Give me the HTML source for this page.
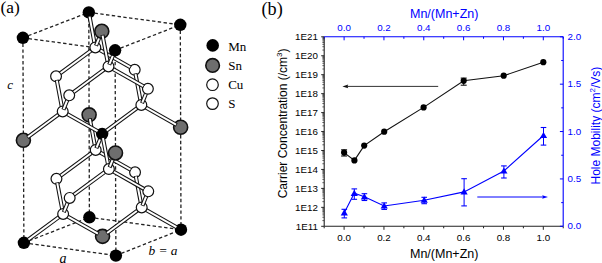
<!DOCTYPE html>
<html><head><meta charset="utf-8"><style>
html,body{margin:0;padding:0;background:#fff;width:602px;height:263px;overflow:hidden}
svg{display:block}
.dsh{stroke:#222;stroke-width:1.3;stroke-dasharray:3.4 2.4;fill:none}
.bo{stroke:#111;stroke-width:4.1;stroke-linecap:butt}
.bi{stroke:#fff;stroke-width:2.0;stroke-linecap:butt}
text{font-family:"Liberation Sans",sans-serif;fill:#000}
.ser13{font-family:"Liberation Serif",serif;font-size:13px}
.ser16{font-family:"Liberation Serif",serif;font-size:17.4px}
.ser17{font-family:"Liberation Serif",serif;font-size:18.2px}
.seri{font-family:"Liberation Serif",serif;font-size:13px;font-style:italic}
.sans9{font-size:9.8px}
.sans12{font-size:12px}
.mid{text-anchor:middle}
.end{text-anchor:end}
.blue{fill:#00f}
</style></head><body>
<svg width="602" height="263" viewBox="0 0 602 263">
<rect width="602" height="263" fill="#fff"/>
<line x1="22.90" y1="37.80" x2="115.10" y2="50.30" class="dsh"/>
<line x1="22.90" y1="37.80" x2="88.80" y2="12.40" class="dsh"/>
<line x1="22.90" y1="37.80" x2="23.90" y2="242.80" class="dsh"/>
<line x1="23.90" y1="242.80" x2="115.90" y2="255.60" class="dsh"/>
<line x1="23.90" y1="242.80" x2="89.40" y2="217.30" class="dsh"/>
<line x1="88.80" y1="12.40" x2="180.30" y2="24.80" class="dsh"/>
<line x1="88.80" y1="12.40" x2="89.40" y2="217.30" class="dsh"/>
<line x1="89.40" y1="217.30" x2="181.00" y2="229.70" class="dsh"/>
<line x1="115.10" y1="50.30" x2="180.30" y2="24.80" class="dsh"/>
<line x1="115.10" y1="50.30" x2="115.90" y2="255.60" class="dsh"/>
<line x1="115.90" y1="255.60" x2="181.00" y2="229.70" class="dsh"/>
<line x1="180.30" y1="24.80" x2="181.00" y2="229.70" class="dsh"/>
<circle cx="89.40" cy="217.30" r="6.20" fill="#000"/>
<circle cx="89.10" cy="114.85" r="7.00" fill="#6e6e6e" stroke="#111" stroke-width="1.6"/>
<line x1="95.01" y1="146.37" x2="89.77" y2="118.43" class="bo"/>
<line x1="94.88" y1="145.68" x2="89.90" y2="119.12" class="bi"/>
<circle cx="135.04" cy="172.28" r="5.40" fill="#fff" stroke="#111" stroke-width="1.2"/>
<line x1="99.70" y1="152.22" x2="131.02" y2="170.00" class="bo"/>
<line x1="100.31" y1="152.57" x2="130.42" y2="169.65" class="bi"/>
<circle cx="88.80" cy="12.40" r="6.20" fill="#000"/>
<circle cx="56.45" cy="178.81" r="5.40" fill="#fff" stroke="#111" stroke-width="1.2"/>
<line x1="91.68" y1="152.89" x2="60.45" y2="175.87" class="bo"/>
<line x1="91.12" y1="153.30" x2="61.01" y2="175.45" class="bi"/>
<circle cx="95.69" cy="149.95" r="5.40" fill="#fff" stroke="#111" stroke-width="1.2"/>
<line x1="141.03" y1="203.84" x2="135.72" y2="175.86" class="bo"/>
<line x1="140.90" y1="203.15" x2="135.85" y2="176.55" class="bi"/>
<circle cx="181.00" cy="229.70" r="6.20" fill="#000"/>
<line x1="145.72" y1="209.70" x2="176.99" y2="227.43" class="bo"/>
<line x1="146.33" y1="210.04" x2="176.38" y2="227.08" class="bi"/>
<line x1="94.67" y1="43.90" x2="89.47" y2="15.98" class="bo"/>
<line x1="94.54" y1="43.21" x2="89.59" y2="16.66" class="bi"/>
<line x1="62.46" y1="210.39" x2="57.13" y2="182.40" class="bo"/>
<line x1="62.33" y1="209.70" x2="57.26" y2="183.09" class="bi"/>
<circle cx="134.71" cy="69.83" r="5.40" fill="#fff" stroke="#111" stroke-width="1.2"/>
<circle cx="102.55" cy="236.35" r="7.00" fill="#6e6e6e" stroke="#111" stroke-width="1.6"/>
<line x1="137.72" y1="210.38" x2="106.54" y2="233.40" class="bo"/>
<line x1="137.15" y1="210.79" x2="107.11" y2="232.98" class="bi"/>
<circle cx="141.71" cy="207.43" r="5.40" fill="#fff" stroke="#111" stroke-width="1.2"/>
<line x1="99.35" y1="49.75" x2="130.70" y2="67.55" class="bo"/>
<line x1="99.96" y1="50.10" x2="130.09" y2="67.20" class="bi"/>
<line x1="96.35" y1="148.30" x2="101.50" y2="135.48" class="bo"/>
<line x1="96.61" y1="147.65" x2="101.24" y2="136.13" class="bi"/>
<line x1="67.16" y1="216.25" x2="98.53" y2="234.07" class="bo"/>
<line x1="67.77" y1="216.60" x2="97.92" y2="233.72" class="bi"/>
<circle cx="56.05" cy="76.34" r="5.40" fill="#fff" stroke="#111" stroke-width="1.2"/>
<line x1="91.33" y1="50.42" x2="60.06" y2="73.39" class="bo"/>
<line x1="90.76" y1="50.83" x2="60.62" y2="72.98" class="bi"/>
<circle cx="95.33" cy="47.47" r="5.40" fill="#fff" stroke="#111" stroke-width="1.2"/>
<circle cx="23.90" cy="242.80" r="6.20" fill="#000"/>
<line x1="59.14" y1="216.91" x2="27.90" y2="239.86" class="bo"/>
<line x1="58.58" y1="217.33" x2="28.47" y2="239.45" class="bi"/>
<circle cx="63.14" cy="213.97" r="5.40" fill="#fff" stroke="#111" stroke-width="1.2"/>
<line x1="140.67" y1="101.36" x2="135.39" y2="73.41" class="bo"/>
<line x1="140.54" y1="100.67" x2="135.52" y2="74.09" class="bi"/>
<circle cx="180.65" cy="127.25" r="7.00" fill="#6e6e6e" stroke="#111" stroke-width="1.6"/>
<line x1="145.36" y1="107.21" x2="176.64" y2="124.97" class="bo"/>
<line x1="145.97" y1="107.56" x2="176.03" y2="124.63" class="bi"/>
<line x1="142.38" y1="205.79" x2="147.59" y2="193.01" class="bo"/>
<line x1="142.64" y1="205.14" x2="147.33" y2="193.66" class="bi"/>
<line x1="62.03" y1="107.87" x2="56.73" y2="79.92" class="bo"/>
<line x1="61.90" y1="107.19" x2="56.86" y2="80.61" class="bi"/>
<circle cx="102.16" cy="133.84" r="6.20" fill="#000"/>
<line x1="137.35" y1="107.88" x2="106.16" y2="130.89" class="bo"/>
<line x1="136.79" y1="108.30" x2="106.72" y2="130.47" class="bi"/>
<circle cx="141.35" cy="104.94" r="5.40" fill="#fff" stroke="#111" stroke-width="1.2"/>
<line x1="95.99" y1="45.83" x2="101.12" y2="32.97" class="bo"/>
<line x1="96.25" y1="45.18" x2="100.86" y2="33.62" class="bi"/>
<line x1="66.73" y1="113.74" x2="98.14" y2="131.56" class="bo"/>
<line x1="67.34" y1="114.08" x2="97.53" y2="131.21" class="bi"/>
<line x1="63.81" y1="212.33" x2="69.01" y2="199.55" class="bo"/>
<line x1="64.07" y1="211.69" x2="68.74" y2="200.20" class="bi"/>
<circle cx="23.40" cy="140.30" r="7.00" fill="#6e6e6e" stroke="#111" stroke-width="1.6"/>
<line x1="58.70" y1="114.40" x2="27.41" y2="137.36" class="bo"/>
<line x1="58.13" y1="114.81" x2="27.97" y2="136.94" class="bi"/>
<circle cx="62.71" cy="111.46" r="5.40" fill="#fff" stroke="#111" stroke-width="1.2"/>
<line x1="108.21" y1="165.43" x2="102.85" y2="137.43" class="bo"/>
<line x1="108.08" y1="164.75" x2="102.98" y2="138.11" class="bi"/>
<circle cx="180.30" cy="24.80" r="6.20" fill="#000"/>
<circle cx="148.26" cy="191.37" r="5.40" fill="#fff" stroke="#111" stroke-width="1.2"/>
<line x1="142.02" y1="103.29" x2="147.22" y2="90.47" class="bo"/>
<line x1="142.28" y1="102.65" x2="146.96" y2="91.12" class="bi"/>
<line x1="112.91" y1="171.30" x2="144.25" y2="189.10" class="bo"/>
<line x1="113.52" y1="171.65" x2="143.64" y2="188.75" class="bi"/>
<circle cx="101.78" cy="31.32" r="7.00" fill="#6e6e6e" stroke="#111" stroke-width="1.6"/>
<circle cx="69.68" cy="197.91" r="5.40" fill="#fff" stroke="#111" stroke-width="1.2"/>
<line x1="104.90" y1="171.97" x2="73.67" y2="194.97" class="bo"/>
<line x1="104.33" y1="172.38" x2="74.24" y2="194.55" class="bi"/>
<circle cx="108.90" cy="169.02" r="5.40" fill="#fff" stroke="#111" stroke-width="1.2"/>
<line x1="63.37" y1="109.81" x2="68.56" y2="96.98" class="bo"/>
<line x1="63.63" y1="109.16" x2="68.30" y2="97.63" class="bi"/>
<circle cx="22.90" cy="37.80" r="6.20" fill="#000"/>
<line x1="107.81" y1="62.87" x2="102.46" y2="34.91" class="bo"/>
<line x1="107.68" y1="62.18" x2="102.59" y2="35.59" class="bi"/>
<circle cx="147.89" cy="88.82" r="5.40" fill="#fff" stroke="#111" stroke-width="1.2"/>
<circle cx="115.90" cy="255.60" r="6.20" fill="#000"/>
<line x1="112.51" y1="68.73" x2="143.87" y2="86.54" class="bo"/>
<line x1="113.12" y1="69.08" x2="143.26" y2="86.20" class="bi"/>
<line x1="109.57" y1="167.38" x2="114.83" y2="154.59" class="bo"/>
<line x1="109.84" y1="166.73" x2="114.56" y2="155.24" class="bi"/>
<circle cx="69.22" cy="95.34" r="5.40" fill="#fff" stroke="#111" stroke-width="1.2"/>
<line x1="104.49" y1="69.40" x2="73.23" y2="92.39" class="bo"/>
<line x1="103.93" y1="69.81" x2="73.79" y2="91.98" class="bi"/>
<circle cx="108.49" cy="66.45" r="5.40" fill="#fff" stroke="#111" stroke-width="1.2"/>
<circle cx="115.50" cy="152.95" r="7.00" fill="#6e6e6e" stroke="#111" stroke-width="1.6"/>
<line x1="109.17" y1="64.80" x2="114.43" y2="51.95" class="bo"/>
<line x1="109.43" y1="64.15" x2="114.16" y2="52.59" class="bi"/>
<circle cx="115.10" cy="50.30" r="6.20" fill="#000"/>
<circle cx="212.7" cy="45.4" r="6.3" fill="#000"/>
<circle cx="212.6" cy="65.4" r="6.8" fill="#6e6e6e" stroke="#111" stroke-width="1.6"/>
<circle cx="212.5" cy="84.7" r="5.8" fill="#fff" stroke="#111" stroke-width="1.2"/>
<circle cx="212.5" cy="103.6" r="5.8" fill="#fff" stroke="#111" stroke-width="1.2"/>
<text x="228.2" y="50.8" class="ser13">Mn</text>
<text x="228.2" y="69.8" class="ser13">Sn</text>
<text x="228.2" y="89.0" class="ser13">Cu</text>
<text x="228.2" y="108.2" class="ser13">S</text>
<text x="0.4" y="13.1" class="ser16">(a)</text>
<text x="7.2" y="88.8" class="seri">c</text>
<text x="59.6" y="262.8" class="seri" style="font-size:14px">a</text>
<text x="148.4" y="254.7" class="seri" style="font-size:13.4px">b = a</text>
<line x1="324.2" y1="226.3" x2="563.2" y2="226.3" stroke="#222" stroke-width="1.1"/>
<line x1="324.2" y1="36.8" x2="324.2" y2="226.3" stroke="#222" stroke-width="1.1"/>
<line x1="324.2" y1="36.8" x2="563.2" y2="36.8" stroke="#00f" stroke-width="1.1"/>
<line x1="563.2" y1="36.8" x2="563.2" y2="226.3" stroke="#00f" stroke-width="1.1"/>
<line x1="324.18" y1="226.3" x2="324.18" y2="228.3" stroke="#222" stroke-width="1"/>
<line x1="324.18" y1="36.8" x2="324.18" y2="38.8" stroke="#00f" stroke-width="1"/>
<line x1="344.10" y1="226.3" x2="344.10" y2="229.8" stroke="#222" stroke-width="1"/>
<line x1="344.10" y1="36.8" x2="344.10" y2="40.3" stroke="#00f" stroke-width="1"/>
<text x="344.10" y="240.6" class="sans9 mid">0.0</text>
<text x="344.10" y="30.6" class="sans9 mid blue">0.0</text>
<line x1="364.02" y1="226.3" x2="364.02" y2="228.3" stroke="#222" stroke-width="1"/>
<line x1="364.02" y1="36.8" x2="364.02" y2="38.8" stroke="#00f" stroke-width="1"/>
<line x1="383.94" y1="226.3" x2="383.94" y2="229.8" stroke="#222" stroke-width="1"/>
<line x1="383.94" y1="36.8" x2="383.94" y2="40.3" stroke="#00f" stroke-width="1"/>
<text x="383.94" y="240.6" class="sans9 mid">0.2</text>
<text x="383.94" y="30.6" class="sans9 mid blue">0.2</text>
<line x1="403.86" y1="226.3" x2="403.86" y2="228.3" stroke="#222" stroke-width="1"/>
<line x1="403.86" y1="36.8" x2="403.86" y2="38.8" stroke="#00f" stroke-width="1"/>
<line x1="423.78" y1="226.3" x2="423.78" y2="229.8" stroke="#222" stroke-width="1"/>
<line x1="423.78" y1="36.8" x2="423.78" y2="40.3" stroke="#00f" stroke-width="1"/>
<text x="423.78" y="240.6" class="sans9 mid">0.4</text>
<text x="423.78" y="30.6" class="sans9 mid blue">0.4</text>
<line x1="443.70" y1="226.3" x2="443.70" y2="228.3" stroke="#222" stroke-width="1"/>
<line x1="443.70" y1="36.8" x2="443.70" y2="38.8" stroke="#00f" stroke-width="1"/>
<line x1="463.62" y1="226.3" x2="463.62" y2="229.8" stroke="#222" stroke-width="1"/>
<line x1="463.62" y1="36.8" x2="463.62" y2="40.3" stroke="#00f" stroke-width="1"/>
<text x="463.62" y="240.6" class="sans9 mid">0.6</text>
<text x="463.62" y="30.6" class="sans9 mid blue">0.6</text>
<line x1="483.54" y1="226.3" x2="483.54" y2="228.3" stroke="#222" stroke-width="1"/>
<line x1="483.54" y1="36.8" x2="483.54" y2="38.8" stroke="#00f" stroke-width="1"/>
<line x1="503.46" y1="226.3" x2="503.46" y2="229.8" stroke="#222" stroke-width="1"/>
<line x1="503.46" y1="36.8" x2="503.46" y2="40.3" stroke="#00f" stroke-width="1"/>
<text x="503.46" y="240.6" class="sans9 mid">0.8</text>
<text x="503.46" y="30.6" class="sans9 mid blue">0.8</text>
<line x1="523.38" y1="226.3" x2="523.38" y2="228.3" stroke="#222" stroke-width="1"/>
<line x1="523.38" y1="36.8" x2="523.38" y2="38.8" stroke="#00f" stroke-width="1"/>
<line x1="543.30" y1="226.3" x2="543.30" y2="229.8" stroke="#222" stroke-width="1"/>
<line x1="543.30" y1="36.8" x2="543.30" y2="40.3" stroke="#00f" stroke-width="1"/>
<text x="543.30" y="240.6" class="sans9 mid">1.0</text>
<text x="543.30" y="30.6" class="sans9 mid blue">1.0</text>
<line x1="563.22" y1="226.3" x2="563.22" y2="228.3" stroke="#222" stroke-width="1"/>
<line x1="563.22" y1="36.8" x2="563.22" y2="38.8" stroke="#00f" stroke-width="1"/>
<line x1="321.2" y1="226.30" x2="324.2" y2="226.30" stroke="#222" stroke-width="1"/>
<text x="318.0" y="229.60" class="sans9 end">1E11</text>
<line x1="322.4" y1="220.60" x2="324.2" y2="220.60" stroke="#333" stroke-width="0.8"/>
<line x1="322.4" y1="217.26" x2="324.2" y2="217.26" stroke="#333" stroke-width="0.8"/>
<line x1="322.4" y1="214.89" x2="324.2" y2="214.89" stroke="#333" stroke-width="0.8"/>
<line x1="322.4" y1="213.05" x2="324.2" y2="213.05" stroke="#333" stroke-width="0.8"/>
<line x1="322.4" y1="211.55" x2="324.2" y2="211.55" stroke="#333" stroke-width="0.8"/>
<line x1="322.4" y1="210.29" x2="324.2" y2="210.29" stroke="#333" stroke-width="0.8"/>
<line x1="322.4" y1="209.19" x2="324.2" y2="209.19" stroke="#333" stroke-width="0.8"/>
<line x1="322.4" y1="208.22" x2="324.2" y2="208.22" stroke="#333" stroke-width="0.8"/>
<line x1="321.2" y1="207.35" x2="324.2" y2="207.35" stroke="#222" stroke-width="1"/>
<text x="318.0" y="210.65" class="sans9 end">1E12</text>
<line x1="322.4" y1="201.65" x2="324.2" y2="201.65" stroke="#333" stroke-width="0.8"/>
<line x1="322.4" y1="198.31" x2="324.2" y2="198.31" stroke="#333" stroke-width="0.8"/>
<line x1="322.4" y1="195.94" x2="324.2" y2="195.94" stroke="#333" stroke-width="0.8"/>
<line x1="322.4" y1="194.10" x2="324.2" y2="194.10" stroke="#333" stroke-width="0.8"/>
<line x1="322.4" y1="192.60" x2="324.2" y2="192.60" stroke="#333" stroke-width="0.8"/>
<line x1="322.4" y1="191.34" x2="324.2" y2="191.34" stroke="#333" stroke-width="0.8"/>
<line x1="322.4" y1="190.24" x2="324.2" y2="190.24" stroke="#333" stroke-width="0.8"/>
<line x1="322.4" y1="189.27" x2="324.2" y2="189.27" stroke="#333" stroke-width="0.8"/>
<line x1="321.2" y1="188.40" x2="324.2" y2="188.40" stroke="#222" stroke-width="1"/>
<text x="318.0" y="191.70" class="sans9 end">1E13</text>
<line x1="322.4" y1="182.70" x2="324.2" y2="182.70" stroke="#333" stroke-width="0.8"/>
<line x1="322.4" y1="179.36" x2="324.2" y2="179.36" stroke="#333" stroke-width="0.8"/>
<line x1="322.4" y1="176.99" x2="324.2" y2="176.99" stroke="#333" stroke-width="0.8"/>
<line x1="322.4" y1="175.15" x2="324.2" y2="175.15" stroke="#333" stroke-width="0.8"/>
<line x1="322.4" y1="173.65" x2="324.2" y2="173.65" stroke="#333" stroke-width="0.8"/>
<line x1="322.4" y1="172.39" x2="324.2" y2="172.39" stroke="#333" stroke-width="0.8"/>
<line x1="322.4" y1="171.29" x2="324.2" y2="171.29" stroke="#333" stroke-width="0.8"/>
<line x1="322.4" y1="170.32" x2="324.2" y2="170.32" stroke="#333" stroke-width="0.8"/>
<line x1="321.2" y1="169.45" x2="324.2" y2="169.45" stroke="#222" stroke-width="1"/>
<text x="318.0" y="172.75" class="sans9 end">1E14</text>
<line x1="322.4" y1="163.75" x2="324.2" y2="163.75" stroke="#333" stroke-width="0.8"/>
<line x1="322.4" y1="160.41" x2="324.2" y2="160.41" stroke="#333" stroke-width="0.8"/>
<line x1="322.4" y1="158.04" x2="324.2" y2="158.04" stroke="#333" stroke-width="0.8"/>
<line x1="322.4" y1="156.20" x2="324.2" y2="156.20" stroke="#333" stroke-width="0.8"/>
<line x1="322.4" y1="154.70" x2="324.2" y2="154.70" stroke="#333" stroke-width="0.8"/>
<line x1="322.4" y1="153.44" x2="324.2" y2="153.44" stroke="#333" stroke-width="0.8"/>
<line x1="322.4" y1="152.34" x2="324.2" y2="152.34" stroke="#333" stroke-width="0.8"/>
<line x1="322.4" y1="151.37" x2="324.2" y2="151.37" stroke="#333" stroke-width="0.8"/>
<line x1="321.2" y1="150.50" x2="324.2" y2="150.50" stroke="#222" stroke-width="1"/>
<text x="318.0" y="153.80" class="sans9 end">1E15</text>
<line x1="322.4" y1="144.80" x2="324.2" y2="144.80" stroke="#333" stroke-width="0.8"/>
<line x1="322.4" y1="141.46" x2="324.2" y2="141.46" stroke="#333" stroke-width="0.8"/>
<line x1="322.4" y1="139.09" x2="324.2" y2="139.09" stroke="#333" stroke-width="0.8"/>
<line x1="322.4" y1="137.25" x2="324.2" y2="137.25" stroke="#333" stroke-width="0.8"/>
<line x1="322.4" y1="135.75" x2="324.2" y2="135.75" stroke="#333" stroke-width="0.8"/>
<line x1="322.4" y1="134.49" x2="324.2" y2="134.49" stroke="#333" stroke-width="0.8"/>
<line x1="322.4" y1="133.39" x2="324.2" y2="133.39" stroke="#333" stroke-width="0.8"/>
<line x1="322.4" y1="132.42" x2="324.2" y2="132.42" stroke="#333" stroke-width="0.8"/>
<line x1="321.2" y1="131.55" x2="324.2" y2="131.55" stroke="#222" stroke-width="1"/>
<text x="318.0" y="134.85" class="sans9 end">1E16</text>
<line x1="322.4" y1="125.85" x2="324.2" y2="125.85" stroke="#333" stroke-width="0.8"/>
<line x1="322.4" y1="122.51" x2="324.2" y2="122.51" stroke="#333" stroke-width="0.8"/>
<line x1="322.4" y1="120.14" x2="324.2" y2="120.14" stroke="#333" stroke-width="0.8"/>
<line x1="322.4" y1="118.30" x2="324.2" y2="118.30" stroke="#333" stroke-width="0.8"/>
<line x1="322.4" y1="116.80" x2="324.2" y2="116.80" stroke="#333" stroke-width="0.8"/>
<line x1="322.4" y1="115.54" x2="324.2" y2="115.54" stroke="#333" stroke-width="0.8"/>
<line x1="322.4" y1="114.44" x2="324.2" y2="114.44" stroke="#333" stroke-width="0.8"/>
<line x1="322.4" y1="113.47" x2="324.2" y2="113.47" stroke="#333" stroke-width="0.8"/>
<line x1="321.2" y1="112.60" x2="324.2" y2="112.60" stroke="#222" stroke-width="1"/>
<text x="318.0" y="115.90" class="sans9 end">1E17</text>
<line x1="322.4" y1="106.90" x2="324.2" y2="106.90" stroke="#333" stroke-width="0.8"/>
<line x1="322.4" y1="103.56" x2="324.2" y2="103.56" stroke="#333" stroke-width="0.8"/>
<line x1="322.4" y1="101.19" x2="324.2" y2="101.19" stroke="#333" stroke-width="0.8"/>
<line x1="322.4" y1="99.35" x2="324.2" y2="99.35" stroke="#333" stroke-width="0.8"/>
<line x1="322.4" y1="97.85" x2="324.2" y2="97.85" stroke="#333" stroke-width="0.8"/>
<line x1="322.4" y1="96.59" x2="324.2" y2="96.59" stroke="#333" stroke-width="0.8"/>
<line x1="322.4" y1="95.49" x2="324.2" y2="95.49" stroke="#333" stroke-width="0.8"/>
<line x1="322.4" y1="94.52" x2="324.2" y2="94.52" stroke="#333" stroke-width="0.8"/>
<line x1="321.2" y1="93.65" x2="324.2" y2="93.65" stroke="#222" stroke-width="1"/>
<text x="318.0" y="96.95" class="sans9 end">1E18</text>
<line x1="322.4" y1="87.95" x2="324.2" y2="87.95" stroke="#333" stroke-width="0.8"/>
<line x1="322.4" y1="84.61" x2="324.2" y2="84.61" stroke="#333" stroke-width="0.8"/>
<line x1="322.4" y1="82.24" x2="324.2" y2="82.24" stroke="#333" stroke-width="0.8"/>
<line x1="322.4" y1="80.40" x2="324.2" y2="80.40" stroke="#333" stroke-width="0.8"/>
<line x1="322.4" y1="78.90" x2="324.2" y2="78.90" stroke="#333" stroke-width="0.8"/>
<line x1="322.4" y1="77.64" x2="324.2" y2="77.64" stroke="#333" stroke-width="0.8"/>
<line x1="322.4" y1="76.54" x2="324.2" y2="76.54" stroke="#333" stroke-width="0.8"/>
<line x1="322.4" y1="75.57" x2="324.2" y2="75.57" stroke="#333" stroke-width="0.8"/>
<line x1="321.2" y1="74.70" x2="324.2" y2="74.70" stroke="#222" stroke-width="1"/>
<text x="318.0" y="78.00" class="sans9 end">1E19</text>
<line x1="322.4" y1="69.00" x2="324.2" y2="69.00" stroke="#333" stroke-width="0.8"/>
<line x1="322.4" y1="65.66" x2="324.2" y2="65.66" stroke="#333" stroke-width="0.8"/>
<line x1="322.4" y1="63.29" x2="324.2" y2="63.29" stroke="#333" stroke-width="0.8"/>
<line x1="322.4" y1="61.45" x2="324.2" y2="61.45" stroke="#333" stroke-width="0.8"/>
<line x1="322.4" y1="59.95" x2="324.2" y2="59.95" stroke="#333" stroke-width="0.8"/>
<line x1="322.4" y1="58.69" x2="324.2" y2="58.69" stroke="#333" stroke-width="0.8"/>
<line x1="322.4" y1="57.59" x2="324.2" y2="57.59" stroke="#333" stroke-width="0.8"/>
<line x1="322.4" y1="56.62" x2="324.2" y2="56.62" stroke="#333" stroke-width="0.8"/>
<line x1="321.2" y1="55.75" x2="324.2" y2="55.75" stroke="#222" stroke-width="1"/>
<text x="318.0" y="59.05" class="sans9 end">1E20</text>
<line x1="322.4" y1="50.05" x2="324.2" y2="50.05" stroke="#333" stroke-width="0.8"/>
<line x1="322.4" y1="46.71" x2="324.2" y2="46.71" stroke="#333" stroke-width="0.8"/>
<line x1="322.4" y1="44.34" x2="324.2" y2="44.34" stroke="#333" stroke-width="0.8"/>
<line x1="322.4" y1="42.50" x2="324.2" y2="42.50" stroke="#333" stroke-width="0.8"/>
<line x1="322.4" y1="41.00" x2="324.2" y2="41.00" stroke="#333" stroke-width="0.8"/>
<line x1="322.4" y1="39.74" x2="324.2" y2="39.74" stroke="#333" stroke-width="0.8"/>
<line x1="322.4" y1="38.64" x2="324.2" y2="38.64" stroke="#333" stroke-width="0.8"/>
<line x1="322.4" y1="37.67" x2="324.2" y2="37.67" stroke="#333" stroke-width="0.8"/>
<line x1="321.2" y1="36.80" x2="324.2" y2="36.80" stroke="#222" stroke-width="1"/>
<text x="318.0" y="40.10" class="sans9 end">1E21</text>
<line x1="559.9000000000001" y1="226.30" x2="563.2" y2="226.30" stroke="#00f" stroke-width="1"/>
<text x="567.6" y="229.30" class="sans9 blue">0.0</text>
<line x1="561.2" y1="202.61" x2="563.2" y2="202.61" stroke="#00f" stroke-width="1"/>
<line x1="559.9000000000001" y1="178.93" x2="563.2" y2="178.93" stroke="#00f" stroke-width="1"/>
<text x="567.6" y="181.93" class="sans9 blue">0.5</text>
<line x1="561.2" y1="155.24" x2="563.2" y2="155.24" stroke="#00f" stroke-width="1"/>
<line x1="559.9000000000001" y1="131.55" x2="563.2" y2="131.55" stroke="#00f" stroke-width="1"/>
<text x="567.6" y="134.55" class="sans9 blue">1.0</text>
<line x1="561.2" y1="107.86" x2="563.2" y2="107.86" stroke="#00f" stroke-width="1"/>
<line x1="559.9000000000001" y1="84.18" x2="563.2" y2="84.18" stroke="#00f" stroke-width="1"/>
<text x="567.6" y="87.18" class="sans9 blue">1.5</text>
<line x1="561.2" y1="60.49" x2="563.2" y2="60.49" stroke="#00f" stroke-width="1"/>
<line x1="559.9000000000001" y1="36.80" x2="563.2" y2="36.80" stroke="#00f" stroke-width="1"/>
<text x="567.6" y="39.80" class="sans9 blue">2.0</text>
<text x="261.5" y="14.8" class="ser17">(b)</text>
<text x="444.2" y="17.6" class="sans12 mid blue" style="font-size:12.5px">Mn/(Mn+Zn)</text>
<text x="444.2" y="257.9" class="sans12 mid" style="font-size:12.5px">Mn/(Mn+Zn)</text>
<text transform="translate(286.6,123.4) rotate(-90)" class="sans12 mid">Carrier Concentration (/cm<tspan dy="-4.5" font-size="8">3</tspan><tspan dy="4.5">)</tspan></text>
<text transform="translate(599.8,125.6) rotate(-90)" class="sans12 mid blue">Hole Mobility (cm<tspan dy="-4.5" font-size="8">2</tspan><tspan dy="4.5">/Vs)</tspan></text>
<polyline fill="none" stroke="#111" stroke-width="1.1" points="344.1,152.6 354.4,160.4 364.2,145.6 384.2,131.7 423.6,107.4 463.7,80.8 503.7,75.7 543.3,62.2"/>
<line x1="344.1" y1="149.8" x2="344.1" y2="156.0" stroke="#111" stroke-width="1"/>
<line x1="341.1" y1="149.8" x2="347.1" y2="149.8" stroke="#111" stroke-width="1.1"/>
<line x1="341.1" y1="156.0" x2="347.1" y2="156.0" stroke="#111" stroke-width="1.1"/>
<line x1="463.7" y1="78.1" x2="463.7" y2="85.2" stroke="#111" stroke-width="1"/>
<line x1="460.7" y1="78.1" x2="466.7" y2="78.1" stroke="#111" stroke-width="1.1"/>
<line x1="460.7" y1="85.2" x2="466.7" y2="85.2" stroke="#111" stroke-width="1.1"/>
<circle cx="344.1" cy="152.6" r="3.1" fill="#000"/>
<circle cx="354.4" cy="160.4" r="3.1" fill="#000"/>
<circle cx="364.2" cy="145.6" r="3.1" fill="#000"/>
<circle cx="384.2" cy="131.7" r="3.1" fill="#000"/>
<circle cx="423.6" cy="107.4" r="3.1" fill="#000"/>
<circle cx="463.7" cy="80.8" r="3.1" fill="#000"/>
<circle cx="503.7" cy="75.7" r="3.1" fill="#000"/>
<circle cx="543.3" cy="62.2" r="3.1" fill="#000"/>
<line x1="347" y1="86.4" x2="438.2" y2="86.4" stroke="#333" stroke-width="1"/>
<polygon points="342.4,86.4 348.2,84.6 347.4,86.4 348.2,88.2" fill="#111"/>
<line x1="477.3" y1="197.0" x2="543" y2="197.0" stroke="#00f" stroke-width="1"/>
<polygon points="548,197.0 542.2,195.2 543,197.0 542.2,198.8" fill="#00f"/>
<polyline fill="none" stroke="#00f" stroke-width="1.1" points="344.3,212.8 354.3,193.3 364.4,196.8 384.2,206.0 424.2,200.2 464.1,191.9 503.9,171.0 543.5,135.5"/>
<line x1="344.3" y1="209.3" x2="344.3" y2="217.9" stroke="#00f" stroke-width="1"/>
<line x1="341.5" y1="209.3" x2="347.1" y2="209.3" stroke="#00f" stroke-width="1.1"/>
<line x1="341.5" y1="217.9" x2="347.1" y2="217.9" stroke="#00f" stroke-width="1.1"/>
<polygon points="344.3,209.20000000000002 347.90000000000003,215.4 340.7,215.4" fill="#00f"/>
<line x1="354.3" y1="188.9" x2="354.3" y2="199.3" stroke="#00f" stroke-width="1"/>
<line x1="351.5" y1="188.9" x2="357.1" y2="188.9" stroke="#00f" stroke-width="1.1"/>
<line x1="351.5" y1="199.3" x2="357.1" y2="199.3" stroke="#00f" stroke-width="1.1"/>
<polygon points="354.3,189.70000000000002 357.90000000000003,195.9 350.7,195.9" fill="#00f"/>
<line x1="364.4" y1="193.7" x2="364.4" y2="200.5" stroke="#00f" stroke-width="1"/>
<line x1="361.59999999999997" y1="193.7" x2="367.2" y2="193.7" stroke="#00f" stroke-width="1.1"/>
<line x1="361.59999999999997" y1="200.5" x2="367.2" y2="200.5" stroke="#00f" stroke-width="1.1"/>
<polygon points="364.4,193.20000000000002 368.0,199.4 360.79999999999995,199.4" fill="#00f"/>
<line x1="384.2" y1="202.9" x2="384.2" y2="209.4" stroke="#00f" stroke-width="1"/>
<line x1="381.4" y1="202.9" x2="387.0" y2="202.9" stroke="#00f" stroke-width="1.1"/>
<line x1="381.4" y1="209.4" x2="387.0" y2="209.4" stroke="#00f" stroke-width="1.1"/>
<polygon points="384.2,202.4 387.8,208.6 380.59999999999997,208.6" fill="#00f"/>
<line x1="424.2" y1="197.3" x2="424.2" y2="203.7" stroke="#00f" stroke-width="1"/>
<line x1="421.4" y1="197.3" x2="427.0" y2="197.3" stroke="#00f" stroke-width="1.1"/>
<line x1="421.4" y1="203.7" x2="427.0" y2="203.7" stroke="#00f" stroke-width="1.1"/>
<polygon points="424.2,196.6 427.8,202.79999999999998 420.59999999999997,202.79999999999998" fill="#00f"/>
<line x1="464.1" y1="178.7" x2="464.1" y2="205.9" stroke="#00f" stroke-width="1"/>
<line x1="461.3" y1="178.7" x2="466.90000000000003" y2="178.7" stroke="#00f" stroke-width="1.1"/>
<line x1="461.3" y1="205.9" x2="466.90000000000003" y2="205.9" stroke="#00f" stroke-width="1.1"/>
<polygon points="464.1,188.3 467.70000000000005,194.5 460.5,194.5" fill="#00f"/>
<line x1="503.9" y1="165.9" x2="503.9" y2="178.0" stroke="#00f" stroke-width="1"/>
<line x1="501.09999999999997" y1="165.9" x2="506.7" y2="165.9" stroke="#00f" stroke-width="1.1"/>
<line x1="501.09999999999997" y1="178.0" x2="506.7" y2="178.0" stroke="#00f" stroke-width="1.1"/>
<polygon points="503.9,167.4 507.5,173.6 500.29999999999995,173.6" fill="#00f"/>
<line x1="543.5" y1="127.5" x2="543.5" y2="145.1" stroke="#00f" stroke-width="1"/>
<line x1="540.7" y1="127.5" x2="546.3" y2="127.5" stroke="#00f" stroke-width="1.1"/>
<line x1="540.7" y1="145.1" x2="546.3" y2="145.1" stroke="#00f" stroke-width="1.1"/>
<polygon points="543.5,131.9 547.1,138.1 539.9,138.1" fill="#00f"/>
</svg>
</body></html>
